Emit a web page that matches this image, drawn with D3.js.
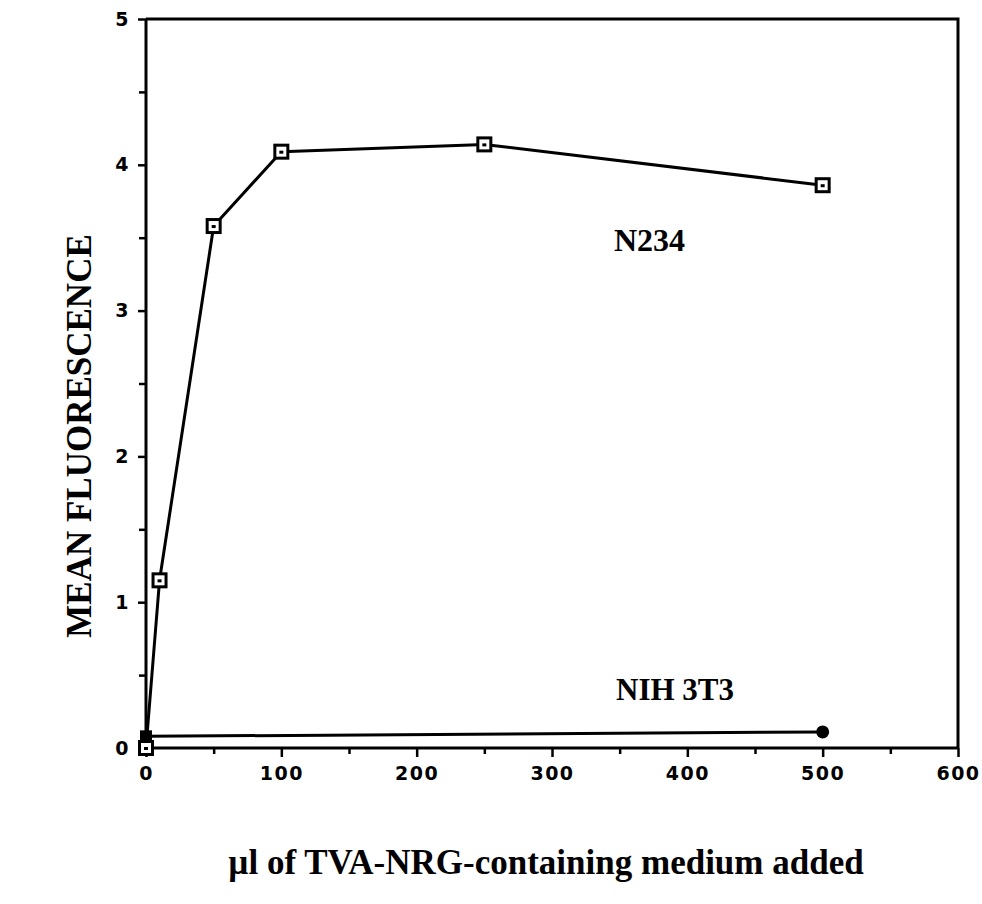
<!DOCTYPE html>
<html>
<head>
<meta charset="utf-8">
<script src="https://cdn.jsdelivr.net/npm/d3@7/dist/d3.min.js"></script>
<style>
  html, body { margin: 0; padding: 0; background: #fff; }
  svg { display: block; }
</style>
</head>
<body>
<svg id="chart" width="982" height="904"></svg>
<script>
// ---- data ----
const n234X = [0, 10, 50, 100, 250, 500];
const n234Y = [0.0, 1.15, 3.58, 4.09, 4.14, 3.86];
const nihX = [0, 500];
const nihY = [0.08, 0.11];
const xTicks = [0, 100, 200, 300, 400, 500, 600];
const xMinorTicks = [50, 150, 250, 350, 450, 550];
const yTicks = [0, 1, 2, 3, 4, 5];
const yMinorTicks = [0.5, 1.5, 2.5, 3.5, 4.5];
const seriesLabels = ["N234", "NIH 3T3"];
const xTitle = "\u00b5l of TVA-NRG-containing medium added";
const yTitle = "MEAN FLUORESCENCE";

// ---- layout ----
const svg = d3.select("#chart");
const L = 146, R = 958, T = 19, B = 748;
const x = d3.scaleLinear().domain([0, 600]).range([L, R]);
const y = d3.scaleLinear().domain([0, 5]).range([B, T]);

const tickFont = "'DejaVu Sans', sans-serif";
const serif = "'Liberation Serif', 'Times New Roman', serif";

// frame (top and right)
svg.append("path")
  .attr("d", `M${L},${T}H${R}V${B}`)
  .attr("fill", "none").attr("stroke", "#000").attr("stroke-width", 3);

// x axis
const xAxis = svg.append("g").attr("transform", `translate(0,${B})`)
  .call(d3.axisBottom(x).tickValues(xTicks).tickSize(9).tickPadding(10).tickFormat(d3.format("d")));
svg.append("g").attr("transform", `translate(0,${B})`)
  .call(d3.axisBottom(x).tickValues(xMinorTicks).tickSize(6).tickFormat(""))
  .call(g => g.select(".domain").remove());

// y axis
const yAxis = svg.append("g").attr("transform", `translate(${L},0)`)
  .call(d3.axisLeft(y).tickValues(yTicks).tickSize(8).tickPadding(8).tickFormat(d3.format("d")));
svg.append("g").attr("transform", `translate(${L},0)`)
  .call(d3.axisLeft(y).tickValues(yMinorTicks).tickSize(7).tickFormat(""))
  .call(g => g.select(".domain").remove());

svg.selectAll(".domain").attr("stroke-width", 3);
svg.selectAll(".tick line").attr("stroke-width", 2.5);
svg.selectAll(".tick text")
  .attr("font-family", tickFont).attr("font-weight", "bold")
  .attr("font-size", 19).attr("letter-spacing", 1.5).attr("fill", "#000");

xAxis.select(".domain").attr("d", `M${L},0H${R}`);
yAxis.select(".domain").attr("d", `M0,${B}V${T}`);

// ---- N234 series ----
const n234 = n234X.map((v, i) => [v, n234Y[i]]);
const line = d3.line().x(d => x(d[0])).y(d => y(d[1]));
svg.append("path").datum(n234).attr("d", line)
  .attr("fill", "none").attr("stroke", "#000").attr("stroke-width", 3)
  .attr("stroke-linejoin", "round");

const sq = 13;
svg.selectAll(".n234m").data(n234).join("rect")
  .attr("x", d => x(d[0]) - sq / 2).attr("y", d => y(d[1]) - sq / 2)
  .attr("width", sq).attr("height", sq)
  .attr("fill", "#fff").attr("stroke", "#000").attr("stroke-width", 3);
svg.selectAll(".n234d").data(n234).join("rect")
  .attr("x", d => x(d[0]) - 2).attr("y", d => y(d[1]) - 1)
  .attr("width", 4).attr("height", 3).attr("fill", "#000");

// ---- NIH 3T3 series ----
const nih = nihX.map((v, i) => [v, nihY[i]]);
svg.append("path").datum(nih).attr("d", line)
  .attr("fill", "none").attr("stroke", "#000").attr("stroke-width", 3);
svg.append("rect")
  .attr("x", x(nih[0][0]) - 6).attr("y", y(nih[0][1]) - 6)
  .attr("width", 12).attr("height", 12).attr("fill", "#000");
svg.append("circle")
  .attr("cx", x(nih[1][0])).attr("cy", y(nih[1][1])).attr("r", 6.5).attr("fill", "#000");

// ---- series labels ----
svg.append("text").text(seriesLabels[0])
  .attr("x", 614).attr("y", 251)
  .attr("font-family", serif).attr("font-weight", "bold").attr("font-size", 32);
svg.append("text").text(seriesLabels[1])
  .attr("x", 616).attr("y", 700)
  .attr("font-family", serif).attr("font-weight", "bold").attr("font-size", 31);

// ---- axis titles ----
svg.append("text").text(xTitle)
  .attr("x", 546).attr("y", 874).attr("text-anchor", "middle")
  .attr("font-family", serif).attr("font-weight", "bold").attr("font-size", 35);
svg.append("text").text(yTitle)
  .attr("transform", "translate(91,436) rotate(-90)").attr("text-anchor", "middle")
  .attr("font-family", serif).attr("font-weight", "bold").attr("font-size", 35);
</script>
</body>
</html>
